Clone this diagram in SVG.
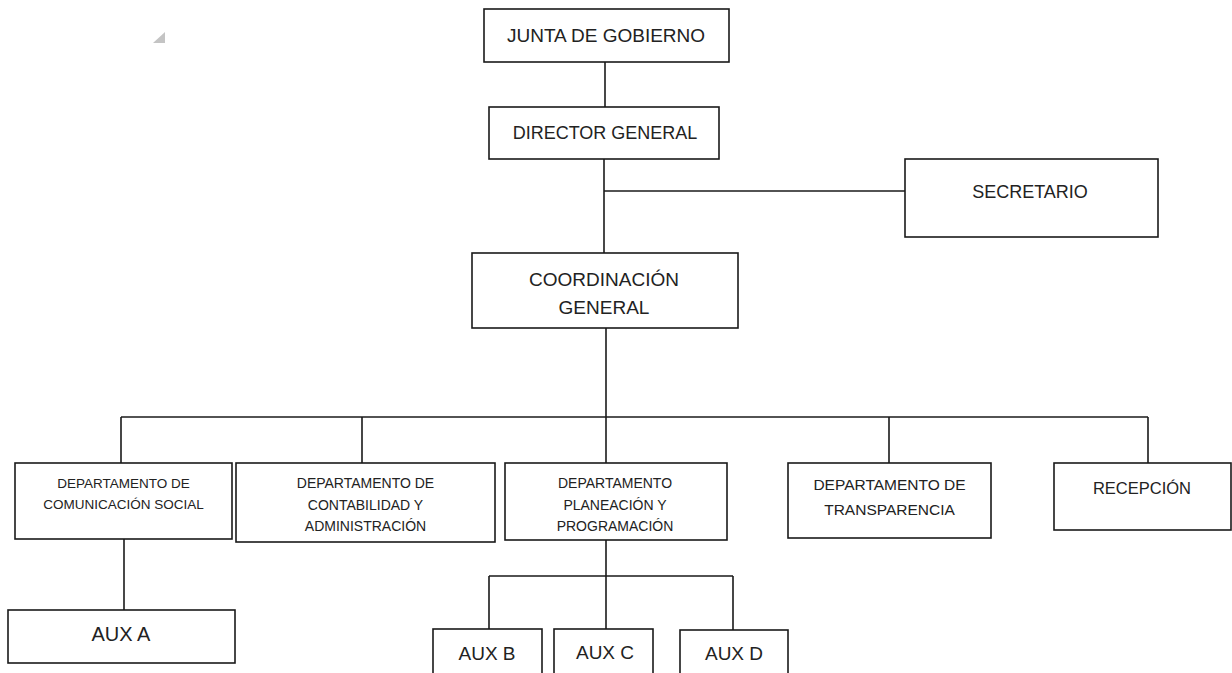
<svg xmlns="http://www.w3.org/2000/svg" width="1232" height="673" viewBox="0 0 1232 673">
<style>
.box{fill:#fff;stroke:#1a1a1a;stroke-width:1.6}
.ln{fill:none;stroke:#1a1a1a;stroke-width:1.6}
text{font-family:"Liberation Sans",Arial,sans-serif;fill:#222;text-anchor:middle}
.t18{font-size:18px}
.t19{font-size:19px}
.d13{font-size:13.5px}
.d14{font-size:14px}
.d15{font-size:15.5px}
</style>
<rect width="1232" height="673" fill="#fff"/>
<polygon points="165,32 165,43 153,43" fill="#c4c4c4"/>
<g id="connectors">
<path class="ln" d="M605 62V107"/>
<path class="ln" d="M604 159V253"/>
<path class="ln" d="M604 191H905"/>
<path class="ln" d="M606 328V463"/>
<path class="ln" d="M121 417H1148"/>
<path class="ln" d="M121 417V463M362 417V463M889 417V463M1148 417V463"/>
<path class="ln" d="M124 539V610"/>
<path class="ln" d="M606 540V629"/>
<path class="ln" d="M489 576H733M489 576V629M733 576V630"/>
</g>
<g id="junta"><rect class="box" x="484" y="9" width="245" height="53"/><text class="t19" x="606" y="42">JUNTA DE GOBIERNO</text></g>
<g id="director"><rect class="box" x="489" y="107" width="230" height="52"/><text class="t18" x="605" y="139">DIRECTOR GENERAL</text></g>
<g id="secretario"><rect class="box" x="905" y="159" width="253" height="78"/><text class="t18" x="1030" y="198">SECRETARIO</text></g>
<g id="coordinacion"><rect class="box" x="472" y="253" width="266" height="75"/><text class="t19" x="604" y="286">COORDINACIÓN</text><text class="t19" x="604" y="314">GENERAL</text></g>
<g id="comunicacion"><rect class="box" x="15" y="463" width="217" height="76"/><text class="d13" x="123.5" y="488">DEPARTAMENTO DE</text><text class="d13" x="123.5" y="509">COMUNICACIÓN SOCIAL</text></g>
<g id="contabilidad"><rect class="box" x="236" y="463" width="259" height="79"/><text class="d14" x="365.5" y="488">DEPARTAMENTO DE</text><text class="d14" x="365.5" y="510">CONTABILIDAD Y</text><text class="d14" x="365.5" y="531">ADMINISTRACIÓN</text></g>
<g id="planeacion"><rect class="box" x="505" y="463" width="222" height="77"/><text class="d14" x="615" y="488">DEPARTAMENTO</text><text class="d14" x="615" y="510">PLANEACIÓN Y</text><text class="d14" x="615" y="531">PROGRAMACIÓN</text></g>
<g id="transparencia"><rect class="box" x="788" y="463" width="203" height="75"/><text class="d15" x="889.5" y="490">DEPARTAMENTO DE</text><text class="d15" x="889.5" y="515">TRANSPARENCIA</text></g>
<g id="recepcion"><rect class="box" x="1054" y="463" width="177" height="67"/><text style="font-size:16.5px" x="1142" y="494">RECEPCIÓN</text></g>
<g id="auxa"><rect class="box" x="8" y="610" width="227" height="53"/><text style="font-size:20px" x="121" y="641">AUX A</text></g>
<g id="auxb"><rect class="box" x="433" y="629" width="109" height="60"/><text class="t19" x="487" y="660">AUX B</text></g>
<g id="auxc"><rect class="box" x="554" y="629" width="99" height="60"/><text class="t19" x="605" y="659">AUX C</text></g>
<g id="auxd"><rect class="box" x="680" y="630" width="108" height="60"/><text class="t19" x="734" y="660">AUX D</text></g>
</svg>
